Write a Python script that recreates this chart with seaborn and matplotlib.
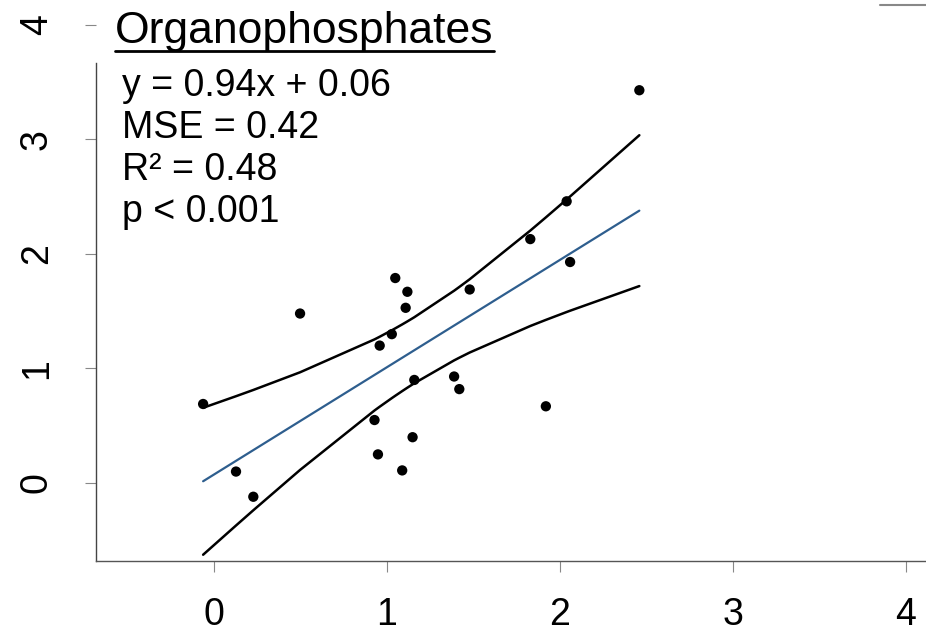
import numpy as np
import matplotlib
matplotlib.use("Agg")
import matplotlib.pyplot as plt
from matplotlib.lines import Line2D
import seaborn as sns

# ---------------- Data ---------------- #

x_vals = [-0.06, 0.13, 0.23, 0.50, 0.93, 0.95, 0.96, 1.03, 1.05, 1.12, 1.11,
          1.09, 1.16, 1.15, 1.39, 1.42, 1.48, 1.83, 1.92, 2.04, 2.06, 2.46]
y_vals = [0.69, 0.10, -0.12, 1.48, 0.55, 0.25, 1.20, 1.30, 1.79, 1.67, 1.53,
          0.11, 0.90, 0.40, 0.93, 0.82, 1.69, 2.13, 0.67, 2.46, 1.93, 3.43]
x_ticks = [0, 1, 2, 3, 4]
y_ticks = [0, 1, 2, 3, 4]
title = "Organophosphates"
stats_lines = ["y = 0.94x + 0.06", "MSE = 0.42", "R² = 0.48", "p < 0.001"]

# ---------------- Regression + 95% confidence band ---------------- #

x = np.array(x_vals)
y = np.array(y_vals)
n = len(x)
slope, intercept = np.polyfit(x, y, 1)
resid = y - (slope * x + intercept)
mse = np.sum(resid ** 2) / (n - 2)
t_crit = 2.086  # t(0.975, df=20)

xs = np.sort(x)
fit = slope * xs + intercept
se = np.sqrt(mse * (1 / n + (xs - x.mean()) ** 2 / np.sum((x - x.mean()) ** 2)))
upper = fit + t_crit * se
lower = fit - t_crit * se

# ---------------- Plot ---------------- #

sns.set_style("ticks")
plt.rcParams['font.family'] = ['Liberation Sans', 'DejaVu Sans']
plt.rcParams['text.color'] = 'black'

fig = plt.figure(figsize=(9.26, 6.38), dpi=100)
ax = fig.add_axes([0.1042, 0.1207, 0.8958, 0.8793])

sns.lineplot(x=xs, y=upper, color='black', lw=1.8, sort=False, estimator=None, ax=ax)
sns.lineplot(x=xs, y=lower, color='black', lw=1.8, sort=False, estimator=None, ax=ax)
sns.lineplot(x=[xs[0], xs[-1]], y=[fit[0], fit[-1]], color='#2e5e8e', lw=1.6,
             sort=False, estimator=None, ax=ax)
sns.scatterplot(x=x_vals, y=y_vals, color='black', s=55, edgecolor='none', ax=ax, zorder=3)

ax.set_xlim(-0.676, 4.116)
ax.set_ylim(-0.681, 4.218)
ax.set_xticks(x_ticks)
ax.set_yticks(y_ticks)
ax.set_xticklabels([str(v) for v in x_ticks])
ax.set_yticklabels([str(v) for v in y_ticks])
ax.tick_params(axis='both', direction='out', length=8, width=0.8, color='#888888',
               labelcolor='black', labelsize=27)
ax.tick_params(axis='x', pad=18)
ax.tick_params(axis='y', labelrotation=90, pad=22)
for lab in ax.get_yticklabels():
    lab.set_va('center')

for side in ['top', 'right']:
    ax.spines[side].set_visible(False)
ax.spines['left'].set_color('#444444')
ax.spines['bottom'].set_color('#555555')
ax.spines['left'].set_linewidth(1.0)
ax.spines['bottom'].set_linewidth(1.0)
ax.spines['left'].set_bounds(-0.681, 3.67)

# title with underline
W, H = 926, 638
t = fig.text(115 / W, 1 - 43 / H, title, fontsize=32, va='baseline', ha='left')
for i, line in enumerate(stats_lines):
    fig.text(122 / W, 1 - (96 + 42 * i) / H, line, fontsize=27, va='baseline', ha='left')

fig.canvas.draw()
bb = t.get_window_extent()
uy = (bb.y0 + 1) / H
fig.add_artist(Line2D([bb.x0 / W, bb.x1 / W], [uy, uy], color='black', lw=2))

# small fragment of a frame line at the top right
fig.add_artist(Line2D([880 / W, 1.0], [1 - 5 / H, 1 - 5 / H], color='#888888', lw=1.5))

fig.savefig('out.png', dpi=100)
